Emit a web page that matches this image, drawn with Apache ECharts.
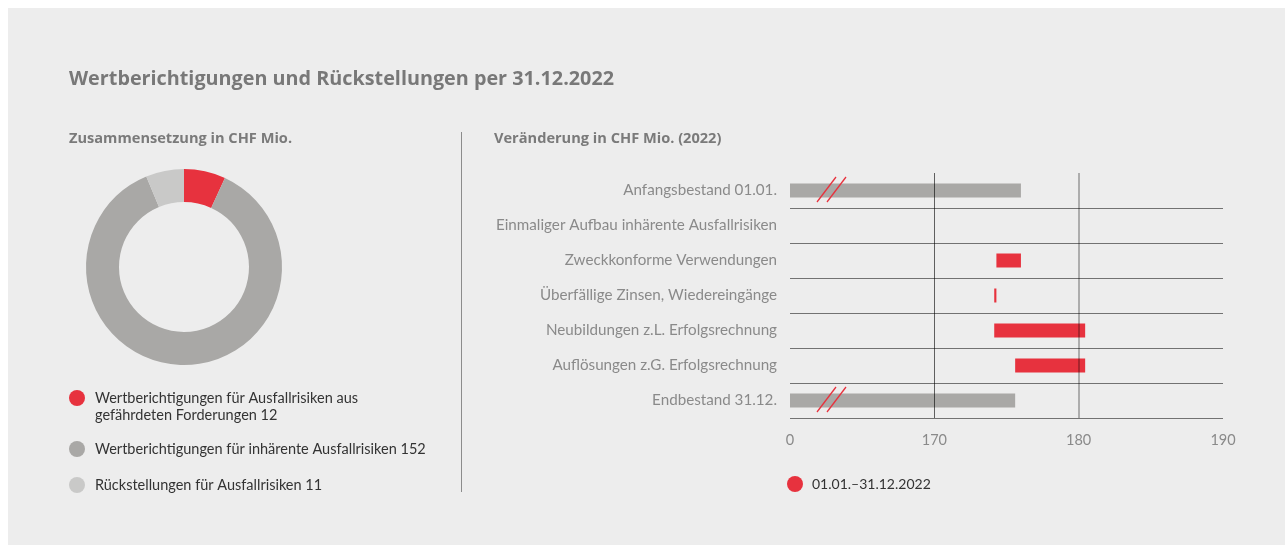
<!DOCTYPE html>
<html>
<head>
<meta charset="utf-8">
<script src="https://cdn.jsdelivr.net/npm/echarts@6/dist/echarts.min.js"></script>
<style>
  html, body { margin: 0; padding: 0; background: #fff; }
  #chart { width: 1285px; height: 545px; }
</style>
</head>
<body>
<div id="chart"></div>
<script>
// Zusammensetzung (donut)
const pieNames = [
  'Wertberichtigungen für Ausfallrisiken aus gefährdeten Forderungen',
  'Wertberichtigungen für inhärente Ausfallrisiken',
  'Rückstellungen für Ausfallrisiken'
]
const pieValues = [12, 152, 11]
const pieLegendText = [
  '\u00a0\nWertberichtigungen für Ausfallrisiken aus\ngefährdeten Forderungen 12',
  'Wertberichtigungen für inhärente Ausfallrisiken 152',
  'Rückstellungen für Ausfallrisiken 11'
]

// Veränderung (waterfall)
const categories = [
  'Anfangsbestand 01.01.',
  'Einmaliger Aufbau inhärente Ausfallrisiken',
  'Zweckkonforme Verwendungen',
  'Überfällige Zinsen, Wiedereingänge',
  'Neubildungen z.L. Erfolgsrechnung',
  'Auflösungen z.G. Erfolgsrechnung',
  'Endbestand 31.12.'
]
const openingBalance = 176.0
const changes = [0, -1.7, -0.15, 6.3, -4.85]
const closingBalance = 175.6
const xTicks = [160, 170, 180, 190] // 160 is drawn as "0" (broken axis)

const RED = '#e7323e'
const GRAY = '#a9a8a6'
const LIGHT = '#c9c9c8'
const FONT = 'Lato'
const HEAD = 'Open Sans'

// build stacked waterfall (transparent base + visible part)
const baseData = []
const barData = []
let level = openingBalance
baseData.push(0)
barData.push({ value: openingBalance, itemStyle: { color: GRAY } })
changes.forEach(c => {
  const next = level + c
  if (c === 0) {
    baseData.push('-')
    barData.push('-')
  } else {
    baseData.push(Math.min(level, next))
    barData.push(Math.abs(c))
  }
  level = next
})
baseData.push(0)
barData.push({ value: closingBalance, itemStyle: { color: GRAY } })

const legendText = { color: '#333', fontSize: 14.5, lineHeight: 17, padding: [0, 0, 0, 5], fontFamily: FONT }

const chart = echarts.init(document.getElementById('chart'))
chart.setOption({
  backgroundColor: '#fff',
  animation: false,
  textStyle: { fontFamily: FONT },
  title: [
    {
      text: 'Wertberichtigungen und Rückstellungen per 31.12.2022',
      left: 69,
      top: 69,
      padding: 0,
      textStyle: { color: '#787878', fontSize: 19.8, fontWeight: 'bold', fontFamily: HEAD }
    },
    {
      text: 'Zusammensetzung in CHF Mio.',
      left: 69,
      top: 131,
      padding: 0,
      textStyle: { color: '#7a7a7a', fontSize: 14.6, fontWeight: 'bold', fontFamily: HEAD }
    },
    {
      text: 'Veränderung in CHF Mio. (2022)',
      left: 494,
      top: 131,
      padding: 0,
      textStyle: { color: '#7a7a7a', fontSize: 14.6, fontWeight: 'bold', fontFamily: HEAD }
    }
  ],
  graphic: [
    {
      type: 'rect',
      z: -10,
      silent: true,
      shape: { x: 8, y: 8, width: 1277, height: 537 },
      style: { fill: '#ededed' }
    },
    {
      type: 'line',
      silent: true,
      shape: { x1: 461.5, y1: 132, x2: 461.5, y2: 492 },
      style: { stroke: '#8c8c8c', lineWidth: 1 }
    },
    // axis break marks
    { type: 'line', z: 100, silent: true, shape: { x1: 817, y1: 202, x2: 836, y2: 177 }, style: { stroke: RED, lineWidth: 1.3 } },
    { type: 'line', z: 100, silent: true, shape: { x1: 827, y1: 202, x2: 846, y2: 177 }, style: { stroke: RED, lineWidth: 1.3 } },
    { type: 'line', z: 100, silent: true, shape: { x1: 817, y1: 412, x2: 836, y2: 387 }, style: { stroke: RED, lineWidth: 1.3 } },
    { type: 'line', z: 100, silent: true, shape: { x1: 827, y1: 412, x2: 846, y2: 387 }, style: { stroke: RED, lineWidth: 1.3 } }
  ],
  legend: [
    {
      data: [pieNames[0]],
      left: 69, top: 372.5, padding: 0,
      icon: 'circle', itemWidth: 16, itemHeight: 16,
      selectedMode: false,
      formatter: () => pieLegendText[0],
      textStyle: legendText
    },
    {
      data: [pieNames[1]],
      left: 69, top: 440.5, padding: 0,
      icon: 'circle', itemWidth: 16, itemHeight: 16,
      selectedMode: false,
      formatter: () => pieLegendText[1],
      textStyle: legendText
    },
    {
      data: [pieNames[2]],
      left: 69, top: 476.5, padding: 0,
      icon: 'circle', itemWidth: 16, itemHeight: 16,
      selectedMode: false,
      formatter: () => pieLegendText[2],
      textStyle: legendText
    },
    {
      data: ['01.01.–31.12.2022'],
      left: 787, top: 475.5, padding: 0,
      icon: 'circle', itemWidth: 16, itemHeight: 16,
      selectedMode: false,
      textStyle: { color: '#333', fontSize: 14, lineHeight: 17, padding: [0, 0, 0, 4], fontFamily: FONT }
    }
  ],
  grid: {
    left: 790,
    right: 62,
    top: 173,
    height: 245,
    containLabel: false
  },
  xAxis: {
    type: 'value',
    min: xTicks[0],
    max: xTicks[xTicks.length - 1],
    interval: 10,
    axisLabel: {
      color: '#8a8a8a',
      fontSize: 14.5,
      margin: 15,
      fontFamily: FONT,
      formatter: v => (v === xTicks[0] ? '0' : String(v))
    },
    axisLine: { show: false },
    axisTick: { show: false },
    splitLine: { show: false }
  },
  yAxis: {
    type: 'category',
    inverse: true,
    data: categories,
    axisLabel: {
      color: '#8a8a8a',
      fontSize: 15.2,
      margin: 13,
      fontFamily: FONT
    },
    axisLine: { show: false },
    axisTick: { show: false },
    splitLine: {
      show: true,
      interval: (i) => i > 0,
      lineStyle: { color: '#727272', width: 1 }
    }
  },
  series: [
    {
      type: 'pie',
      center: [184, 267],
      radius: [65, 98],
      startAngle: 90,
      clockwise: true,
      label: { show: false },
      labelLine: { show: false },
      emphasis: { disabled: true },
      data: pieNames.map((n, i) => ({
        name: n,
        value: pieValues[i],
        itemStyle: { color: [RED, GRAY, LIGHT][i] }
      }))
    },
    {
      name: 'base',
      type: 'bar',
      stack: 'wf',
      barWidth: 14,
      silent: true,
      itemStyle: { color: 'transparent' },
      data: baseData
    },
    {
      name: '01.01.–31.12.2022',
      type: 'bar',
      stack: 'wf',
      barWidth: 14,
      itemStyle: { color: RED },
      data: barData,
      markLine: {
        silent: true,
        symbol: 'none',
        label: { show: false },
        data: [
          { xAxis: xTicks[1], lineStyle: { color: 'rgba(0,0,0,0.6)', width: 1, type: 'solid' } },
          { xAxis: xTicks[2], lineStyle: { color: 'rgba(0,0,0,0.27)', width: 2, type: 'solid' } }
        ]
      }
    }
  ]
})
</script>
</body>
</html>
